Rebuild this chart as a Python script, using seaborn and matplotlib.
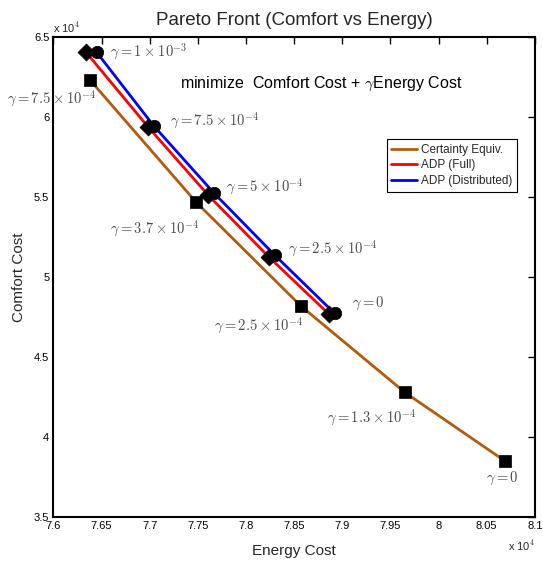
import matplotlib
matplotlib.use("Agg")
import matplotlib.pyplot as plt
import seaborn as sns
import pandas as pd
from matplotlib.ticker import FuncFormatter

# ---- data ----
ce_energy = [76380, 77480, 78570, 79650, 80690]
ce_comfort = [62310, 54690, 48190, 42790, 38500]
ce_gamma = [r"$\gamma = 7.5\times10^{-4}$", r"$\gamma = 3.7\times10^{-4}$",
            r"$\gamma = 2.5\times10^{-4}$", r"$\gamma = 1.3\times10^{-4}$",
            r"$\gamma = 0$"]

adp_full_energy = [76340, 76980, 77610, 78240, 78860]
adp_full_comfort = [64040, 59400, 55100, 51240, 47690]
adp_dist_energy = [76450, 77040, 77670, 78300, 78920]
adp_dist_comfort = [64040, 59460, 55230, 51360, 47730]
adp_gamma = [r"$\gamma = 1\times10^{-3}$", r"$\gamma = 7.5\times10^{-4}$",
             r"$\gamma = 5\times10^{-4}$", r"$\gamma = 2.5\times10^{-4}$",
             r"$\gamma = 0$"]

series_names = ["Certainty Equiv.", "ADP (Full)", "ADP (Distributed)"]
x_ticks = [76000, 76500, 77000, 77500, 78000, 78500, 79000, 79500, 80000, 80500, 81000]
y_ticks = [35000, 40000, 45000, 50000, 55000, 60000, 65000]

# label placement (layout only)
ce_label_pos = [(75520, 61120), (76590, 53000), (77670, 46960), (78840, 41170), (80490, 37400)]
adp_label_pos = [(76590, 64060), (77215, 59770), (77790, 55610), (78440, 51790), (79100, 48360)]

df = pd.concat([
    pd.DataFrame({"energy": ce_energy, "comfort": ce_comfort, "series": series_names[0]}),
    pd.DataFrame({"energy": adp_full_energy, "comfort": adp_full_comfort, "series": series_names[1]}),
    pd.DataFrame({"energy": adp_dist_energy, "comfort": adp_dist_comfort, "series": series_names[2]}),
])

sns.set_style("white")
plt.rcParams["font.family"] = ["Liberation Sans", "DejaVu Sans"]
plt.rcParams["mathtext.fontset"] = "cm"

palette = {series_names[0]: "#B45A0A", series_names[1]: "#FF0000", series_names[2]: "#0000FF"}

fig = plt.figure(figsize=(5.43, 5.62), dpi=100)
ax = fig.add_axes([0.0985, 0.080, 0.8865, 0.854])

sns.lineplot(data=df, x="energy", y="comfort", hue="series", palette=palette,
             sort=False, estimator=None, linewidth=2, ax=ax, zorder=2)

markers = {series_names[0]: "s", series_names[1]: "D", series_names[2]: "o"}
sizes = {series_names[0]: 70, series_names[1]: 75, series_names[2]: 80}
for name in series_names:
    sub = df[df["series"] == name]
    sns.scatterplot(data=sub, x="energy", y="comfort", marker=markers[name],
                    s=sizes[name], color="black", edgecolor="black", linewidth=0.5,
                    ax=ax, zorder=3, legend=False)

gray = "#4a4a4a"
for (x, y), t in zip(ce_label_pos, ce_gamma):
    ax.text(x, y, t, fontsize=10.5, color=gray, ha="left", va="center", clip_on=False)
for (x, y), t in zip(adp_label_pos, adp_gamma):
    ax.text(x, y, t, fontsize=10.5, color=gray, ha="left", va="center", clip_on=False)

ax.text(77310, 62100, r"minimize  Comfort Cost + $\gamma$Energy Cost", fontsize=11.5,
        color="black", ha="left", va="center")

ax.set_xlim(76000, 81000)
ax.set_ylim(35000, 65000)
ax.set_xticks(x_ticks)
ax.set_yticks(y_ticks)
fmt = FuncFormatter(lambda v, p: f"{v/1e4:g}")
ax.xaxis.set_major_formatter(fmt)
ax.yaxis.set_major_formatter(fmt)
ax.tick_params(direction="in", length=5, width=1, top=True, right=True,
               labelsize=8, pad=3, colors="black")
for s in ax.spines.values():
    s.set_visible(True)
    s.set_linewidth(1.5)
    s.set_color("black")

ax.set_xlabel("Energy Cost", fontsize=11, labelpad=9)
ax.set_ylabel("Comfort Cost", fontsize=11, labelpad=6)
ax.set_title("Pareto Front (Comfort vs Energy)", fontsize=13.5, pad=9)

ax.text(0.0, 1.005, r"x 10$^{4}$", transform=ax.transAxes, fontsize=8, ha="left", va="bottom")
ax.text(1.0, -0.045, r"x 10$^{4}$", transform=ax.transAxes, fontsize=8, ha="right", va="top")

leg = ax.legend(loc="upper right", bbox_to_anchor=(0.975, 0.8), fontsize=8.5,
                frameon=True, fancybox=False, framealpha=1, edgecolor="black",
                handlelength=2.2, borderpad=0.4, labelspacing=0.3, handletextpad=0.3)
leg.get_frame().set_linewidth(0.8)

fig.savefig("out.png", dpi=100)
